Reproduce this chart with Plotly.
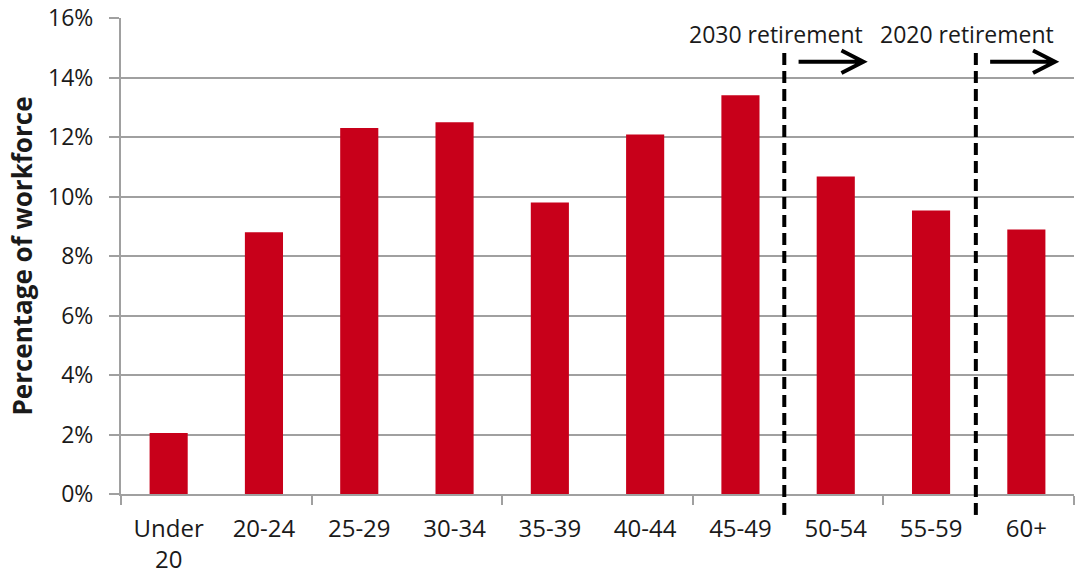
import plotly.graph_objects as go

# Workforce age distribution
age_groups = ["Under<br>20", "20-24", "25-29", "30-34", "35-39",
              "40-44", "45-49", "50-54", "55-59", "60+"]
share_pct = [2.05, 8.8, 12.3, 12.5, 9.8, 12.08, 13.4, 10.67, 9.53, 8.89]

y_tick_vals = [0, 2, 4, 6, 8, 10, 12, 14, 16]
y_tick_text = [f"{v}%" for v in y_tick_vals]

# Retirement cut-offs (category-axis positions) and their labels
cutoffs = [6.46, 8.47]
cutoff_labels = ["2030 retirement", "2020 retirement"]

FONT = "Open Sans, Noto Sans, sans-serif"
RED = "#C8001A"
GRID = "#A0A0A0"
TEXT = "#1a1a1a"

x_pos = list(range(len(age_groups)))

fig = go.Figure()
fig.add_trace(go.Bar(
    x=x_pos, y=share_pct,
    marker=dict(color=RED, line=dict(width=0)),
    width=0.4,
    hoverinfo="skip",
))

boundary_ticks = [-0.5, 1.5, 3.5, 5.5, 7.5, 9.5]

fig.update_layout(
    width=1075, height=576,
    margin=dict(l=121, r=1, t=18, b=82),
    paper_bgcolor="white", plot_bgcolor="white",
    showlegend=False,
    font=dict(family=FONT, size=23, color=TEXT),
    xaxis=dict(
        range=[-0.5, 9.5],
        tickmode="array", tickvals=x_pos, ticktext=age_groups,
        ticks="", showgrid=False, zeroline=False,
        showline=True, linecolor=GRID, linewidth=2,
        tickfont=dict(size=24),
        ticklabelstandoff=12,
        automargin=False,
        minor=dict(tickmode="array", tickvals=boundary_ticks,
                   ticks="outside", ticklen=9, tickcolor=GRID, tickwidth=2,
                   showgrid=False),
        fixedrange=True,
    ),
    yaxis=dict(
        range=[0, 16],
        tickmode="array", tickvals=y_tick_vals, ticktext=y_tick_text,
        ticks="outside", ticklen=10, tickcolor=GRID, tickwidth=2,
        showgrid=True, gridcolor=GRID, gridwidth=2,
        showline=True, linecolor=GRID, linewidth=2,
        zeroline=False,
        tickfont=dict(size=23),
        ticklabelstandoff=11,
        automargin=False,
        title=dict(text="<b>Percentage of workforce</b>",
                   font=dict(size=26, color=TEXT), standoff=8),
        fixedrange=True,
    ),
)

for xc, label in zip(cutoffs, cutoff_labels):
    # dashed divider running below the axis
    fig.add_shape(type="line", xref="x", yref="paper",
                  x0=xc, x1=xc, y0=-0.044, y1=0.937,
                  line=dict(color="black", width=4, dash="12px,6px"))
    # label above the divider
    fig.add_annotation(x=xc - 0.09, y=15.45, xref="x", yref="y",
                       text=label, showarrow=False,
                       font=dict(family=FONT, size=23, color=TEXT))
    # right-pointing arrow
    x0, x1, ya = xc + 0.15, xc + 0.83, 14.53
    fig.add_shape(type="path", xref="x", yref="y",
                  path=(f"M {x0},{ya} L {x1},{ya} "
                        f"M {x1 - 0.23},{ya + 0.38} L {x1},{ya} L {x1 - 0.23},{ya - 0.38}"),
                  line=dict(color="black", width=4))

fig.write_html("out.html")
